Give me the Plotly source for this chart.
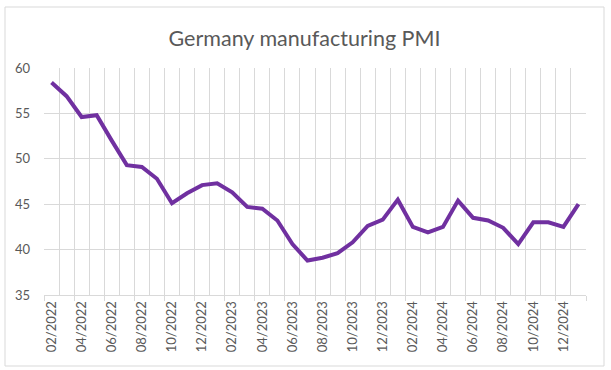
import plotly.graph_objects as go

months = ["02/2022","03/2022","04/2022","05/2022","06/2022","07/2022","08/2022","09/2022",
          "10/2022","11/2022","12/2022","01/2023","02/2023","03/2023","04/2023","05/2023",
          "06/2023","07/2023","08/2023","09/2023","10/2023","11/2023","12/2023","01/2024",
          "02/2024","03/2024","04/2024","05/2024","06/2024","07/2024","08/2024","09/2024",
          "10/2024","11/2024","12/2024","01/2025"]
pmi = [58.4, 56.9, 54.6, 54.8, 52.0, 49.3, 49.1, 47.8, 45.1, 46.2, 47.1, 47.3,
       46.3, 44.7, 44.5, 43.2, 40.6, 38.8, 39.1, 39.6, 40.8, 42.6, 43.3, 45.5,
       42.5, 41.9, 42.5, 45.4, 43.5, 43.2, 42.4, 40.6, 43.0, 43.0, 42.5, 45.0]
y_ticks = [35, 40, 45, 50, 55, 60]

n = len(months)
idx = list(range(n))
label_idx = idx[::2]

FONT = "Lato, 'Open Sans', sans-serif"
GRAY = "#595959"
GRID = "#d9d9d9"

fig = go.Figure()
fig.add_trace(go.Scatter(x=idx, y=pmi, mode="lines",
                         line=dict(color="#7030A0", width=4), hoverinfo="skip",
                         showlegend=False))
# invisible trace on overlay axis for tick marks
fig.add_trace(go.Scatter(x=[-0.5, n - 0.5], y=[35, 35], xaxis="x2", mode="lines",
                         line=dict(width=0), hoverinfo="skip", showlegend=False))

L, R, T, B = 44, 25, 68, 75
W, H = 611, 370
pw, ph = W - L - R, H - T - B

fig.update_layout(
    width=W, height=H,
    margin=dict(l=L, r=R, t=T, b=B),
    paper_bgcolor="white", plot_bgcolor="white",
    font=dict(family=FONT, color=GRAY, size=13),
    title=dict(text="Germany manufacturing PMI", x=(304.5) / W, xanchor="center",
               y=1 - 38 / H, yanchor="middle", yref="container", xref="container",
               font=dict(family=FONT, size=21.5, color=GRAY)),
    xaxis=dict(range=[-0.5, n - 0.5], tickmode="array",
               tickvals=label_idx, ticktext=[months[i] for i in label_idx],
               tickangle=-90, ticks="", showgrid=False, zeroline=False,
               showline=True, linecolor=GRID, linewidth=1,
               tickfont=dict(size=13, color=GRAY),
               minor=dict(tickmode="linear", tick0=-0.5, dtick=1,
                          showgrid=True, gridcolor=GRID, gridwidth=1, ticks="")),
    xaxis2=dict(range=[-0.5, n - 0.5], overlaying="x", anchor="y",
                tickmode="linear", tick0=-0.5, dtick=2, ticks="outside",
                ticklen=5, tickcolor=GRID, showticklabels=False,
                showgrid=False, zeroline=False, showline=False),
    yaxis=dict(range=[35, 60], tickmode="array", tickvals=y_ticks,
               showgrid=True, gridcolor=GRID, gridwidth=1, zeroline=False,
               showline=False, ticks="", ticklabelstandoff=13,
               tickfont=dict(size=13, color=GRAY)),
    shapes=[dict(type="rect", xref="paper", yref="paper",
                 x0=(5 - L) / pw, x1=(604 - L) / pw,
                 y0=(H - B - 366) / ph, y1=(H - B - 7) / ph,
                 line=dict(color=GRID, width=1), fillcolor="rgba(0,0,0,0)",
                 layer="below")],
)

fig.write_html("out.html", config={"displayModeBar": False},
               post_script="document.body.style.margin='0';document.body.style.overflow='hidden';")
